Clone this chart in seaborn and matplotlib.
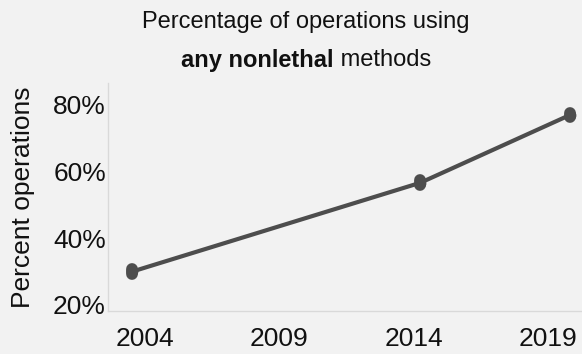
import matplotlib
matplotlib.use("Agg")
import matplotlib.pyplot as plt
import seaborn as sns
import pandas as pd
import numpy as np

# Data
years = [2003.55, 2014.25, 2019.8]
percent = [30.0, 56.5, 76.7]
err = [0.7, 0.7, 0.7]
xticks = [2004, 2009, 2014, 2019]
xtick_labels = ["2004", "2009", "2014", "2019"]
yticks = [20, 40, 60, 80]
ytick_labels = ["20%", "40%", "60%", "80%"]
title_line1 = "Percentage of operations using"
title_bold = "any nonlethal"
title_rest = " methods"
ylabel = "Percent operations"

sns.set_theme(style="white")
plt.rcParams["font.family"] = ["Liberation Sans", "DejaVu Sans"]

BG = "#f2f2f2"
LINE = "#4d4d4d"

fig = plt.figure(figsize=(5.82, 3.54), dpi=100, facecolor=BG)
ax = fig.add_axes([108 / 582, 43 / 354, 474 / 582, 228 / 354])
ax.set_facecolor(BG)

df = pd.DataFrame({"year": years, "pct": percent})
sns.lineplot(data=df, x="year", y="pct", ax=ax, color=LINE, linewidth=3.0,
             marker="o", markersize=8.5, markeredgewidth=0, legend=False)
ax.errorbar(years, percent, yerr=err, fmt="none", ecolor=LINE,
            elinewidth=8.5, capsize=0)
for c in ax.collections:
    try:
        c.set_capstyle("round")
    except Exception:
        pass

ax.set_xlim(2002.64, 2020.26)
ax.set_ylim(18.2, 86.3)
ax.set_xticks(xticks)
ax.set_xticklabels(xtick_labels)
ax.set_yticks(yticks)
ax.set_yticklabels(ytick_labels)
ax.tick_params(axis="both", length=0, labelsize=19, colors="#111111")
ax.tick_params(axis="x", pad=11.5)
ax.tick_params(axis="y", pad=1.5)
ax.set_xlabel("")
ax.set_ylabel(ylabel, fontsize=19, color="#111111", labelpad=13)

for side in ["top", "right"]:
    ax.spines[side].set_visible(False)
for side in ["left", "bottom"]:
    ax.spines[side].set_color("#d9d9d9")
    ax.spines[side].set_linewidth(1.0)

# Title
cx = 306 / 582
fig.text(cx, 1 - 22 / 354, title_line1, ha="center", va="center", fontsize=17, color="#111111")
fig.canvas.draw()
r = fig.canvas.get_renderer()
y2 = 1 - 60 / 354
tb = fig.text(0, y2, title_bold, ha="left", va="center", fontsize=17, fontweight="bold", color="#111111")
tr = fig.text(0, y2, title_rest, ha="left", va="center", fontsize=17, color="#111111")
wb = tb.get_window_extent(r).width / fig.bbox.width
wr = tr.get_window_extent(r).width / fig.bbox.width
start = cx - (wb + wr) / 2
tb.set_x(start)
tr.set_x(start + wb)

fig.savefig("out.png", dpi=100, facecolor=BG)
